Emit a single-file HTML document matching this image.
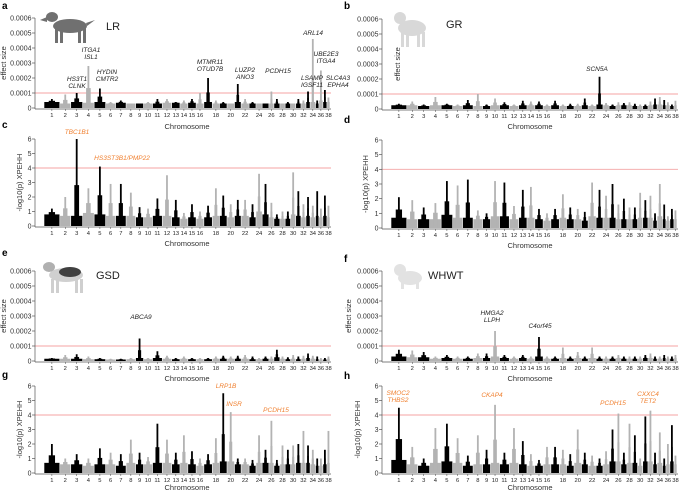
<!DOCTYPE html>
<html><head><meta charset="utf-8"><style>
html,body{margin:0;padding:0;background:#fff;}
svg{display:block;font-family:"Liberation Sans",sans-serif;}
</style></head><body>
<svg id="fig" width="679" height="492" viewBox="0 0 679 492" xmlns="http://www.w3.org/2000/svg">
<g fill="#707070">
<ellipse cx="70" cy="26" rx="17" ry="7"/><ellipse cx="52" cy="17" rx="6" ry="5"/><path d="M47 17 L40 20 L47 22Z"/>
<rect x="55" y="28" width="3" height="15"/><rect x="60" y="28" width="3" height="15"/><rect x="78" y="28" width="3" height="15"/><rect x="83" y="28" width="3" height="15"/><path d="M86 23 L95 20 L87 26Z"/></g>
<g fill="#d8d8d8">
<ellipse cx="412" cy="28" rx="14" ry="8"/><ellipse cx="400" cy="18" rx="6" ry="6"/><rect x="401" y="32" width="3" height="15"/><rect x="406" y="32" width="3" height="15"/><rect x="417" y="32" width="3" height="15"/><rect x="422" y="32" width="3" height="15"/></g>
<g>
<ellipse cx="66" cy="275" rx="17" ry="7" fill="#d0d0d0"/><ellipse cx="70" cy="272" rx="11" ry="5" fill="#404040"/><ellipse cx="49" cy="267" rx="6" ry="5" fill="#b0b0b0"/>
<g fill="#cfcfcf"><rect x="51" y="279" width="3" height="14"/><rect x="56" y="279" width="3" height="14"/><rect x="75" y="279" width="3" height="14"/><rect x="80" y="279" width="3" height="14"/></g></g>
<g fill="#e2e2e2">
<ellipse cx="410" cy="278" rx="12" ry="7"/><ellipse cx="400" cy="270" rx="6" ry="6"/><rect x="401" y="282" width="3" height="7"/><rect x="416" y="282" width="3" height="7"/></g>
<g id="panels"></g>
</svg>
<script>
const chromLengths=[122,85,92,89,89,77,81,74,61,70,75,73,64,61,64,60,65,56,58,58,51,62,53,48,52,39,46,41,42,40,40,39,32,42,26,31,31,24];
const chromLabels=["1","2","3","4","5","6","7","8","9","10","11","12","13","14","15","16","","18","","20","","22","","24","","26","","28","","30","","32","","34","","36","","38"];
const effTicks=["0","0.0001","0.0002","0.0003","0.0004","0.0005","0.0006"];
const xpTicks=["0","1","2","3","4","5","6"];
const peakA=[0.6,0.9,1.0,2.8,1.3,0.4,0.5,0.3,0.3,0.4,0.6,0.6,0.4,0.5,0.6,1.0,2.0,0.5,0.4,0.3,1.6,0.6,0.4,0.3,0.3,1.1,0.6,0.3,0.4,0.3,0.6,0.5,1.1,4.6,0.5,2.5,1.2,0.7];
const baseA=[0.4,0.3,0.4,0.35,0.4,0.3,0.35,0.3,0.3,0.3,0.3,0.35,0.35,0.3,0.35,0.3,0.4,0.3,0.3,0.3,0.4,0.3,0.3,0.3,0.3,0.3,0.3,0.3,0.3,0.3,0.3,0.3,0.4,0.4,0.3,0.5,0.4,0.4];
const peakB=[0.35,0.5,0.3,0.8,0.35,0.3,0.6,1.0,0.3,0.7,0.45,0.3,0.55,0.5,0.5,0.3,0.55,0.3,0.35,0.35,0.7,0.3,2.15,0.4,0.3,0.45,0.4,0.45,0.35,0.3,0.3,0.5,0.7,0.8,0.6,0.45,0.3,0.55];
const baseB=[0.25,0.25,0.2,0.25,0.25,0.2,0.25,0.2,0.2,0.25,0.25,0.2,0.25,0.25,0.25,0.2,0.25,0.2,0.2,0.2,0.25,0.2,0.3,0.25,0.2,0.25,0.25,0.25,0.2,0.2,0.2,0.25,0.3,0.3,0.25,0.25,0.2,0.25];
const peakC=[1.2,2.0,6.0,2.6,4.1,2.9,2.9,2.3,1.3,1.2,1.9,3.5,1.8,0.9,1.5,1.0,1.4,2.6,2.1,1.5,1.8,1.8,1.5,3.6,2.9,1.6,0.8,1.0,1.0,3.7,2.4,1.5,2.0,1.4,2.4,1.2,2.1,1.4];
const baseC=[0.8,0.7,0.7,0.9,0.8,0.7,0.7,0.7,0.6,0.6,0.7,0.7,0.6,0.5,0.6,0.5,0.6,0.7,0.7,0.6,0.7,0.7,0.6,1.0,0.8,0.6,0.5,0.5,0.5,0.8,0.7,0.6,0.7,0.6,0.7,0.6,0.7,0.6];
const peakD=[2.1,1.9,1.4,1.7,3.2,2.9,3.3,1.2,1.0,3.2,3.1,1.5,2.6,2.8,1.3,1.0,1.3,2.3,1.4,1.3,1.1,3.1,2.6,2.2,3.0,1.6,2.0,1.4,1.4,2.4,1.9,2.2,1.0,3.0,1.6,0.8,1.3,1.2];
const baseD=[0.7,0.6,0.6,0.6,0.9,0.7,0.7,0.6,0.6,0.8,0.8,0.6,0.7,0.7,0.6,0.5,0.6,0.7,0.6,0.6,0.5,0.8,0.7,0.7,0.7,0.6,0.6,0.6,0.6,0.7,0.7,0.7,0.5,0.8,0.6,0.5,0.6,0.6];
const peakE=[0.2,0.4,0.45,0.3,0.2,0.15,0.15,0.2,1.5,0.2,0.65,0.35,0.2,0.3,0.2,0.2,0.2,0.3,0.35,0.3,0.35,0.4,0.3,0.2,0.3,0.3,0.75,0.3,0.25,0.4,0.3,0.35,0.5,0.35,0.3,0.2,0.2,0.3];
const baseE=[0.15,0.15,0.15,0.12,0.12,0.1,0.1,0.12,0.2,0.12,0.2,0.15,0.12,0.15,0.12,0.12,0.12,0.15,0.15,0.15,0.15,0.15,0.12,0.12,0.15,0.15,0.25,0.15,0.12,0.15,0.12,0.15,0.2,0.15,0.12,0.1,0.1,0.15];
const peakF=[0.75,0.7,0.6,0.3,0.4,0.3,0.3,0.5,0.5,2.0,0.4,0.3,0.4,0.3,1.6,0.3,0.3,0.9,0.3,0.6,0.3,0.9,0.3,0.3,0.3,0.4,0.3,0.3,0.3,0.3,0.4,0.5,0.3,0.3,0.4,0.3,0.3,0.4];
const baseF=[0.3,0.25,0.25,0.15,0.2,0.15,0.15,0.2,0.2,0.3,0.2,0.15,0.2,0.15,0.3,0.15,0.15,0.2,0.15,0.2,0.15,0.2,0.15,0.15,0.15,0.2,0.15,0.15,0.15,0.15,0.2,0.2,0.15,0.15,0.2,0.15,0.15,0.2];
const peakG=[2.0,1.0,1.3,1.0,1.7,1.4,1.3,2.3,1.4,1.1,3.4,2.3,1.4,2.6,1.5,1.0,1.3,2.4,5.5,4.2,1.0,1.0,0.9,2.6,1.6,3.6,0.9,1.9,1.6,1.9,2.0,2.9,1.9,1.6,1.0,1.0,1.6,2.9];
const baseG=[0.7,0.6,0.6,0.5,0.6,0.6,0.5,0.7,0.6,0.6,0.7,0.7,0.6,0.7,0.6,0.5,0.6,0.7,0.8,0.8,0.6,0.6,0.5,0.7,0.7,0.7,0.5,0.6,0.6,0.6,0.7,0.7,0.7,0.6,0.5,0.5,0.6,0.7];
const peakH=[4.5,1.8,1.0,3.1,3.4,2.4,1.2,2.6,1.6,4.7,1.4,3.1,2.2,1.3,0.9,1.8,1.8,1.6,1.3,3.0,1.4,1.2,1.0,1.5,3.0,4.1,1.4,3.4,2.6,1.0,3.9,4.3,1.4,2.8,1.0,2.0,3.3,1.2];
const baseH=[0.9,0.6,0.5,0.7,0.8,0.7,0.5,0.6,0.6,0.7,0.6,0.7,0.6,0.5,0.5,0.6,0.6,0.6,0.5,0.7,0.6,0.5,0.5,0.6,0.8,0.8,0.6,0.7,0.7,0.5,0.8,0.8,0.6,0.7,0.5,0.6,0.8,0.6];

const NS="http://www.w3.org/2000/svg";
const root=document.getElementById('panels');
function mk(tag,attrs,parent,text){const e=document.createElementNS(NS,tag);for(const k in attrs)e.setAttribute(k,attrs[k]);if(text!==undefined)e.textContent=text;(parent||root).appendChild(e);return e;}
const total=chromLengths.reduce((a,b)=>a+b,0);

function panel(o){
  const g=mk('g',{});
  
  
  const xs=o.left?44:391, xw=286, ax=o.left?35:382;
  const yS=v=>o.y0-(v/o.max)*(o.y0-o.yTop);
  const xStart=i=>xs+chromLengths.slice(0,i).reduce((a,b)=>a+b,0)/total*xw;
  const cw=i=>chromLengths[i]/total*xw;
  const th=mk('line',{x1:ax,x2:ax+296,y1:yS(o.thr),y2:yS(o.thr),stroke:'#f4a3a3','stroke-width':0.9},g);
  
  
  for(let i=0;i<chromLengths.length;i++){
    const col=i%2===0?'#000':'#b3b3b3';
    const x=xStart(i), w=cw(i);
    const b=mk('rect',{x:x+0.3,y:yS(o.base[i]),width:Math.max(w-0.6,0.5),height:o.y0-yS(o.base[i]),fill:col},g);
    
    
    const midV=o.base[i]+(o.peak[i]-o.base[i])*0.4;
    const m=mk('rect',{x:x+w*0.3,y:yS(midV),width:w*0.4,height:o.y0-yS(midV),fill:col},g);
    
    
    const s=mk('rect',{x:x+w*0.5-0.9,y:yS(o.peak[i]),width:1.8,height:o.y0-yS(o.peak[i]),fill:col},g);
    
    
    if(chromLabels[i]){
      const t=mk('text',{x:x+w/2,y:o.y0+9,'font-size':5.8,'text-anchor':'middle',fill:'#222'},g,chromLabels[i]);
      
      
      mk('line',{x1:x+w/2,x2:x+w/2,y1:o.y0+1,y2:o.y0+3,stroke:'#444','stroke-width':0.5},g);
    }
  }
  const ya=mk('line',{x1:ax,x2:ax,y1:o.yTop,y2:o.y0+1,stroke:'#555','stroke-width':0.7},g);
  
  
  const xa=mk('line',{x1:ax,x2:ax+296,y1:o.y0+1,y2:o.y0+1,stroke:'#555','stroke-width':0.7},g);
  
  
  o.ticks.forEach((lab,k)=>{
    const yy=o.y0-(k/(o.ticks.length-1))*(o.y0-o.yTop);
    mk('line',{x1:ax-3,x2:ax,y1:yy,y2:yy,stroke:'#555','stroke-width':0.7},g);
    const t=mk('text',{x:ax-3.5,y:yy+2.5,'font-size':7,'text-anchor':'end',fill:'#333'},g,lab);
    
    
  });
  const yl=mk('text',{x:o.ylx,y:(o.y0+o.yTop)/2,'font-size':7.5,'text-anchor':'middle',fill:'#333',transform:`rotate(-90 ${o.ylx} ${(o.y0+o.yTop)/2})`},g,o.ylab);
  
  
  const xl=mk('text',{x:o.left?187:530,y:o.xly,'font-size':7.5,'text-anchor':'middle',fill:'#333'},g,'Chromosome');
  
  
  const pl=mk('text',{x:o.left?2:344,y:o.ly,'font-size':10,'font-weight':'bold',fill:'#000'},g,o.letter);
  
  
  if(o.breed){const bt=mk('text',{x:o.bx,y:o.by,'font-size':11,fill:'#222'},g,o.breed);
    
    }
  (o.genes||[]).forEach(gn=>{
    const t=mk('text',{x:gn[1],y:gn[2],'font-size':6.5,'font-style':'italic',fill:o.gcol||'#222','text-anchor':'middle'},g,gn[0]);
    
    
  });
}
panel({name:'panel-a-lr-effect',left:true,y0:108,yTop:18,max:6,thr:1,peak:peakA,base:baseA,ticks:effTicks,ylab:'effect size',ylx:6,xly:129,ly:9,letter:'a',breed:'LR',bx:106,by:30,
 genes:[['HS3T1',77,81],['CLNK',77,88],['ITGA1',91,52],['ISL1',91,59],['HYDIN',107,74],['CMTR2',107,81],['MTMR11',210,64],['OTUD7B',210,71],['LUZP2',245,72],['ANO3',245,79],['PCDH15',278,73],['LSAMP',312,80],['IGSF11',312,87],['ARL14',313,35],['UBE2E3',326,56],['ITGA4',326,63],['SLC4A3',338,80],['EPHA4',338,87]]});
panel({name:'panel-b-gr-effect',left:false,y0:109,yTop:19,max:6,thr:1,peak:peakB,base:baseB,ticks:effTicks,ylab:'effect size',ylx:400,xly:129,ly:9,letter:'b',breed:'GR',bx:446,by:28,
 genes:[['SCN5A',597,71]]});
panel({name:'panel-c-lr-xpehh',left:true,y0:226,yTop:139,max:6,thr:4,peak:peakC,base:baseC,ticks:xpTicks,ylab:'-log10(p) XPEHH',ylx:22,xly:246,ly:128,letter:'c',gcol:'#f08030',
 genes:[['TBC1B1',77,134],['HS3ST3B1/PMP22',122,160]]});
panel({name:'panel-d-gr-xpehh',left:false,y0:228,yTop:140,max:6,thr:4,peak:peakD,base:baseD,ticks:xpTicks,ylab:'-log10(p) XPEHH',ylx:368,xly:248,ly:123,letter:'d'});
panel({name:'panel-e-gsd-effect',left:true,y0:361,yTop:271,max:6,thr:1,peak:peakE,base:baseE,ticks:effTicks,ylab:'effect size',ylx:6,xly:381,ly:256,letter:'e',breed:'GSD',bx:96,by:279,
 genes:[['ABCA9',141,319]]});
panel({name:'panel-f-whwt-effect',left:false,y0:361,yTop:271,max:6,thr:1,peak:peakF,base:baseF,ticks:effTicks,ylab:'effect size',ylx:351,xly:381,ly:262,letter:'f',breed:'WHWT',bx:428,by:279,
 genes:[['HMGA2',492,315],['LLPH',492,322],['C4orf45',540,328]]});
panel({name:'panel-g-gsd-xpehh',left:true,y0:473,yTop:386,max:6,thr:4,peak:peakG,base:baseG,ticks:xpTicks,ylab:'-log10(p) XPEHH',ylx:22,xly:490,ly:378,letter:'g',gcol:'#f08030',
 genes:[['LRP1B',226,388],['INSR',234,406],['PCDH15',276,412]]});
panel({name:'panel-h-whwt-xpehh',left:false,y0:473,yTop:386,max:6,thr:4,peak:peakH,base:baseH,ticks:xpTicks,ylab:'-log10(p) XPEHH',ylx:360,xly:490,ly:379,letter:'h',gcol:'#f08030',
 genes:[['SMOC2',398,395],['THBS2',398,402],['CKAP4',492,397],['PCDH15',613,405],['CXXC4',648,396],['TET2',648,403]]});
</script>
</body></html>
